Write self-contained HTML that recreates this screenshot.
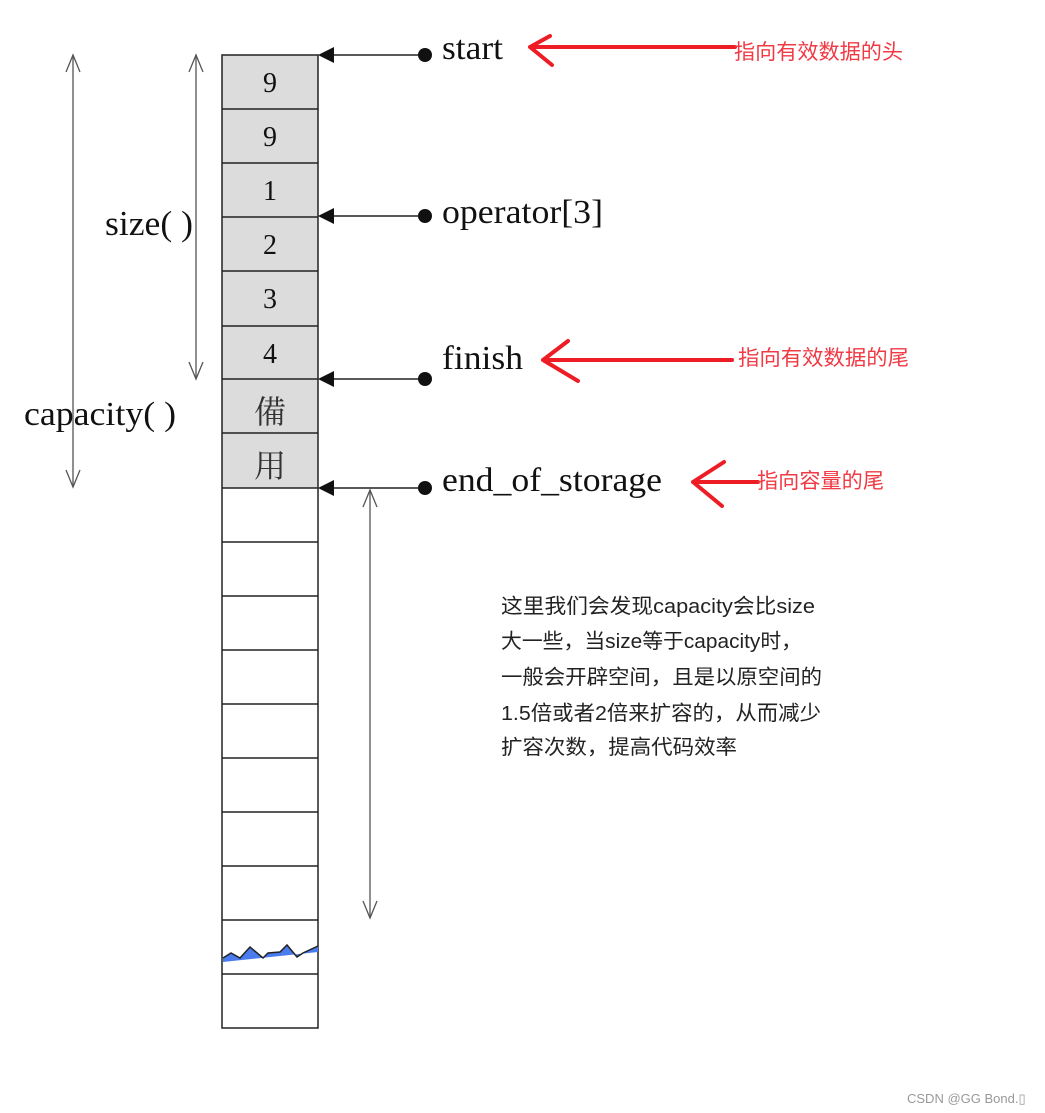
<!DOCTYPE html>
<html><head><meta charset="utf-8"><style>
html,body{margin:0;padding:0;background:#fff;}
body{width:1045px;height:1113px;overflow:hidden;}
svg{display:block;}
.t{font-family:"Liberation Serif","Noto Serif CJK SC",serif;fill:#111;}
.r{font-family:"Liberation Sans","Noto Sans CJK SC",sans-serif;fill:#f03a44;font-size:21px;}
.c{font-family:"Liberation Sans","Noto Sans CJK SC",sans-serif;fill:#222;font-size:20.5px;}
</style></head><body>
<svg width="1045" height="1113" viewBox="0 0 1045 1113" xmlns="http://www.w3.org/2000/svg">
<rect x="222" y="55" width="96" height="433" fill="#dcdcdc"/>
<g stroke="#222" stroke-width="1.5" fill="none">
<rect x="222" y="55" width="96" height="973"/>
<path d="M222 109H318M222 163H318M222 217H318M222 271H318M222 326H318M222 379H318M222 433H318M222 488H318M222 542H318M222 596H318M222 650H318M222 704H318M222 758H318M222 812H318M222 866H318M222 920H318M222 974H318"/>
</g>
<path d="M223 958 L231 953 L240 958 L250 947 L263 958 L268 953 L280 952 L287 945 L297 957 L303 953 L318 946 L318 952 L223 962Z" fill="#4a7cf0"/>
<polyline points="223,958 231,953 240,958 250,947 263,958 268,953 280,952 287,945 297,957 303,953 318,946" fill="none" stroke="#222" stroke-width="1.5"/>
<g class="t" font-size="28" text-anchor="middle">
<text x="270" y="92">9</text><text x="270" y="146">9</text><text x="270" y="200">1</text>
<text x="270" y="254">2</text><text x="270" y="308">3</text><text x="270" y="363">4</text>
<text x="270" y="423" font-size="32" fill="#333">備</text><text x="270" y="477" font-size="32" fill="#333">用</text>
</g>
<g stroke="#222" stroke-width="1.5">
<line x1="330" y1="55" x2="425" y2="55"/><line x1="330" y1="216" x2="425" y2="216"/>
<line x1="330" y1="379" x2="425" y2="379"/><line x1="330" y1="488" x2="425" y2="488"/>
</g>
<g fill="#111">
<path d="M318 55L334 47L334 63Z"/><path d="M318 216L334 208L334 224Z"/>
<path d="M318 379L334 371L334 387Z"/><path d="M318 488L334 480L334 496Z"/>
<circle cx="425" cy="55" r="7"/><circle cx="425" cy="216" r="7"/>
<circle cx="425" cy="379" r="7"/><circle cx="425" cy="488" r="7"/>
</g>
<g class="t" font-size="34">
<text x="442" y="59" textLength="61" lengthAdjust="spacingAndGlyphs">start</text>
<text x="442" y="223" textLength="161" lengthAdjust="spacingAndGlyphs">operator[3]</text>
<text x="442" y="369" textLength="81" lengthAdjust="spacingAndGlyphs">finish</text>
<text x="442" y="491" textLength="220" lengthAdjust="spacingAndGlyphs">end_of_storage</text>
<text x="105" y="235" font-size="35" textLength="88" lengthAdjust="spacingAndGlyphs">size( )</text>
<text x="24" y="425" textLength="152" lengthAdjust="spacingAndGlyphs">capacity( )</text>
</g>
<g stroke="#555" stroke-width="1.3" fill="none">
<line x1="73" y1="55" x2="73" y2="487"/><path d="M66 72L73 55L80 72M66 470L73 487L80 470"/>
<line x1="196" y1="55" x2="196" y2="379"/><path d="M189 72L196 55L203 72M189 362L196 379L203 362"/>
<line x1="370" y1="490" x2="370" y2="918"/><path d="M363 507L370 490L377 507M363 901L370 918L377 901"/>
</g>
<g stroke="#ee1c25" stroke-width="4" fill="none" stroke-linecap="round" stroke-linejoin="round">
<path d="M530 47H735M550 36L530 47L552 65"/>
<path d="M543 360H732M568 341L543 360L578 381"/>
<path d="M693 482H758M724 462L693 482L722 506"/>
</g>
<text class="r" x="734" y="59" textLength="169" lengthAdjust="spacingAndGlyphs">指向有效数据的头</text>
<text class="r" x="738" y="365" textLength="171" lengthAdjust="spacingAndGlyphs">指向有效数据的尾</text>
<text class="r" x="757" y="488" textLength="127" lengthAdjust="spacingAndGlyphs">指向容量的尾</text>
<g class="c">
<text x="501" y="613" textLength="314" lengthAdjust="spacingAndGlyphs">这里我们会发现capacity会比size</text>
<text x="501" y="648" textLength="301" lengthAdjust="spacingAndGlyphs">大一些，当size等于capacity时，</text>
<text x="501" y="684" textLength="321" lengthAdjust="spacingAndGlyphs">一般会开辟空间，且是以原空间的</text>
<text x="501" y="720" textLength="320" lengthAdjust="spacingAndGlyphs">1.5倍或者2倍来扩容的，从而减少</text>
<text x="501" y="754" textLength="236" lengthAdjust="spacingAndGlyphs">扩容次数，提高代码效率</text>
</g>
<text x="907" y="1103" font-family="Liberation Sans,sans-serif" font-size="13" fill="#999">CSDN @GG Bond.▯</text>
</svg>
</body></html>
